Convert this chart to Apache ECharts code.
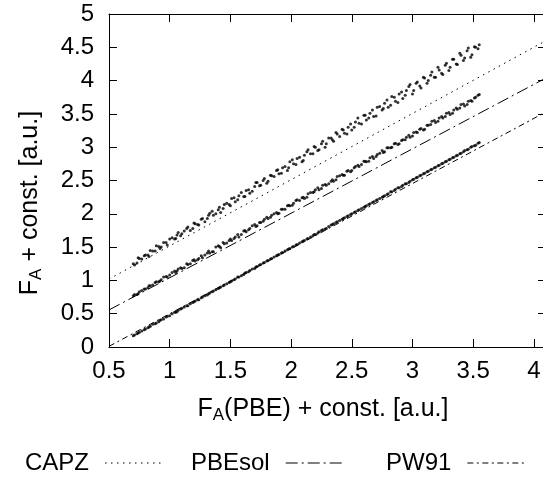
<!DOCTYPE html>
<html>
<head>
<meta charset="utf-8">
<script src="https://cdn.jsdelivr.net/npm/echarts@6/dist/echarts.min.js"></script>
<style>
html,body{margin:0;padding:0;background:#fff;overflow:hidden;width:543px;height:487px;}
#chart{width:560px;height:487px;}
</style>
</head>
<body>
<div id="chart"></div>
<script>
// F_A(PBE) + const. (shared x values of the systems)
const pbeX = [0.70,0.73,0.75,0.79,0.82,0.84,0.88,0.91,0.93,0.97,1.00,1.04,1.06,1.09,1.12,1.15,1.19,1.21,1.24,1.27,
1.31,1.33,1.36,1.40,1.42,1.45,1.49,1.51,1.54,1.57,1.61,1.63,1.66,1.70,1.72,1.75,1.78,1.81,1.84,1.88,
1.90,1.93,1.97,1.99,2.02,2.05,2.09,2.11,2.14,2.18,2.20,2.23,2.26,2.29,2.33,2.35,2.38,2.42,2.44,2.47,
2.50,2.53,2.56,2.60,2.62,2.65,2.68,2.71,2.75,2.77,2.80,2.83,2.86,2.89,2.92,2.95,2.98,3.01,3.04,3.07,
3.10,3.13,3.16,3.19,3.22,3.25,3.28,3.31,3.34,3.37,3.40,3.43,3.46,3.49,3.52,3.55,
0.71,0.74,0.77,0.80,0.83,0.86,0.89,0.92,0.95,0.98,1.02,1.05,1.07,1.10,1.14,1.17,1.20,1.23,1.26,1.29,
1.32,1.35,1.38,1.41,1.44,1.47,1.50,1.53,1.56,1.59,1.62,1.65,1.68,1.71,1.74,1.77,1.80,1.83,1.86,1.89,
1.92,1.95,1.98,2.01,2.04,2.07,2.10,2.13,2.16,2.19,2.22,2.25,2.28,2.31,2.34,2.37,2.40,2.43,2.46,2.49,
2.52,2.55,2.58,2.61,2.64,2.67,2.70,2.73,2.76,2.79,2.82,2.85,2.88,2.91,2.94,2.97,3.00,3.03,3.06,3.09,
3.12,3.15,3.18,3.21,3.24,3.27,3.30,3.33,3.36,3.39,3.42,3.45,3.48,3.51,3.54];
// F_A(CAPZ) + const.
const capzY = [1.25,1.26,1.33,1.37,1.38,1.45,1.44,1.51,1.50,1.57,1.62,1.62,1.68,1.67,1.74,1.80,1.78,1.85,1.83,1.93,
1.93,2.01,1.98,2.06,2.02,2.14,2.14,2.23,2.18,2.27,2.26,2.35,2.31,2.41,2.47,2.43,2.53,2.49,2.57,2.65,
2.60,2.69,2.65,2.78,2.75,2.83,2.78,2.88,2.96,2.90,3.00,2.96,3.09,3.05,3.14,3.09,3.20,3.27,3.21,3.30,
3.26,3.38,3.36,3.48,3.41,3.51,3.46,3.60,3.56,3.66,3.60,3.76,3.69,3.80,3.73,3.85,3.94,3.85,3.98,3.89,
4.04,4.00,4.13,4.05,4.16,4.09,4.26,4.20,4.32,4.24,4.38,4.34,4.49,4.39,4.50,4.54,
1.23,1.34,1.32,1.38,1.36,1.44,1.52,1.48,1.57,1.53,1.64,1.63,1.72,1.70,1.78,1.75,1.86,1.84,1.92,1.88,
1.98,2.04,2.00,2.10,2.08,2.16,2.12,2.24,2.21,2.32,2.26,2.36,2.34,2.47,2.42,2.50,2.46,2.58,2.56,2.66,
2.61,2.71,2.69,2.81,2.74,2.85,2.80,2.93,2.90,3.01,2.95,3.05,3.00,3.14,3.11,3.22,3.16,3.26,3.20,3.35,
3.30,3.44,3.35,3.48,3.44,3.56,3.47,3.61,3.58,3.71,3.63,3.75,3.67,3.83,3.78,3.91,3.80,3.96,3.92,4.05,
3.96,4.08,4.05,4.20,4.11,4.23,4.15,4.32,4.25,4.41,4.30,4.45,4.35,4.51,4.48];
// F_A(PBEsol) + const.
const pbesolY = [0.77,0.79,0.83,0.87,0.89,0.92,0.97,0.98,1.01,1.06,1.08,1.14,1.14,1.19,1.19,1.24,1.30,1.29,1.33,1.34,
1.41,1.41,1.43,1.52,1.49,1.55,1.60,1.60,1.65,1.65,1.74,1.73,1.78,1.84,1.82,1.87,1.92,1.93,1.98,2.02,
2.01,2.07,2.12,2.12,2.16,2.21,2.24,2.23,2.30,2.32,2.36,2.36,2.43,2.43,2.49,2.49,2.56,2.59,2.58,2.65,
2.65,2.71,2.71,2.79,2.78,2.84,2.83,2.89,2.95,2.93,2.99,3.00,3.06,3.05,3.11,3.15,3.15,3.22,3.22,3.28,
3.27,3.33,3.39,3.37,3.44,3.44,3.51,3.49,3.56,3.57,3.64,3.62,3.69,3.69,3.75,3.79,
0.79,0.80,0.85,0.87,0.92,0.93,0.98,0.99,1.05,1.05,1.12,1.12,1.17,1.18,1.25,1.25,1.31,1.31,1.37,1.38,
1.44,1.43,1.50,1.51,1.57,1.56,1.62,1.63,1.69,1.69,1.75,1.76,1.82,1.81,1.87,1.89,1.95,1.95,2.00,2.00,
2.07,2.07,2.13,2.13,2.20,2.20,2.25,2.25,2.32,2.33,2.39,2.38,2.44,2.45,2.51,2.51,2.57,2.58,2.64,2.63,
2.69,2.73,2.74,2.79,2.79,2.86,2.86,2.91,2.92,2.99,2.99,3.05,3.04,3.10,3.11,3.18,3.17,3.23,3.27,3.26,
3.33,3.34,3.40,3.39,3.46,3.46,3.52,3.51,3.59,3.59,3.65,3.64,3.70,3.74,3.78];
// F_A(PW91) + const.
const pw91Y = [0.17,0.20,0.22,0.26,0.29,0.31,0.35,0.38,0.41,0.45,0.47,0.52,0.53,0.57,0.60,0.62,0.67,0.69,0.71,0.75,
0.78,0.81,0.84,0.88,0.90,0.93,0.97,0.99,1.02,1.05,1.09,1.12,1.15,1.18,1.21,1.24,1.27,1.30,1.33,1.37,
1.39,1.42,1.46,1.48,1.51,1.54,1.58,1.60,1.63,1.67,1.69,1.73,1.76,1.78,1.83,1.85,1.88,1.92,1.94,1.97,
2.00,2.03,2.06,2.10,2.12,2.15,2.18,2.21,2.25,2.27,2.30,2.33,2.37,2.39,2.43,2.45,2.49,2.52,2.55,2.58,
2.61,2.64,2.67,2.70,2.73,2.76,2.79,2.82,2.85,2.88,2.91,2.95,2.97,3.01,3.03,3.07,
0.18,0.21,0.24,0.27,0.30,0.34,0.36,0.40,0.42,0.46,0.50,0.52,0.55,0.58,0.62,0.65,0.68,0.71,0.74,0.77,
0.80,0.83,0.86,0.89,0.92,0.95,0.98,1.01,1.05,1.07,1.11,1.13,1.17,1.20,1.23,1.26,1.29,1.32,1.35,1.38,
1.41,1.44,1.47,1.50,1.53,1.56,1.59,1.62,1.65,1.69,1.71,1.75,1.77,1.81,1.84,1.87,1.90,1.93,1.96,1.99,
2.02,2.05,2.08,2.11,2.14,2.17,2.20,2.23,2.26,2.29,2.33,2.35,2.39,2.41,2.45,2.47,2.51,2.54,2.57,2.60,
2.63,2.66,2.69,2.72,2.75,2.78,2.81,2.84,2.87,2.90,2.93,2.96,3.00,3.02,3.06];
// fitted lines (end points)
const capzFit = [[0.5, 1.02], [4.1, 4.60]];
const pbesolFit = [[0.5, 0.556], [4.1, 4.04]];
const pw91Fit = [[0.5, 0.01], [4.1, 3.53]];
// axis ranges / ticks / texts
const xMin = 0.5, xMax = 4.1, xStep = 0.5;
const yMin = 0, yMax = 5, yStep = 0.5;
const legendNames = ['CAPZ', 'PBEsol', 'PW91'];
const xTitle = '{n|F}{s|A}{n|(PBE) + const. [a.u.]}';
const yTitle = '{n|F}{s|A}{n| + const. [a.u.]}';

const FONT = "'Liberation Sans', Arial, Helvetica, sans-serif";
const pts = ys => pbeX.map((x, i) => [x, ys[i]]);
const black = '#000';

const chart = echarts.init(document.getElementById('chart'), null, {renderer: 'canvas'});
const tick = {show: true, inside: true, length: 8, lineStyle: {color: black, width: 1}};
const line = {show: true, onZero: false, lineStyle: {color: black, width: 1}};
const richName = {
  n: {fontSize: 25, fontFamily: FONT, fill: black, color: black, lineHeight: 30},
  s: {fontSize: 17, fontFamily: FONT, fill: black, color: black, lineHeight: 14, verticalAlign: 'bottom'}
};
const fmtX = v => (Math.abs(v * 2 - Math.round(v * 2)) < 1e-6 ? String(+v.toFixed(2)) : '');
const legendAt = (name, left) => ({
  left: left, top: 451, padding: 0, orient: 'horizontal', align: 'right',
  itemWidth: 60, itemHeight: 14, data: [name],
  textStyle: {fontSize: 24, fontFamily: FONT, color: black, padding: [0, 11, 0, 0]},
  itemStyle: {opacity: 0}, lineStyle: {width: 1}
});

chart.setOption({
  animation: false,
  backgroundColor: '#fff',
  textStyle: {fontFamily: FONT},
  grid: {left: 109, top: 14, bottom: 140, right: 14, outerBoundsMode: 'none', containLabel: false},
  legend: [legendAt(legendNames[0], 25), legendAt(legendNames[1], 191), legendAt(legendNames[2], 386)],
  xAxis: [{
    type: 'value', position: 'bottom', min: xMin, max: xMax, interval: xStep,
    axisLine: line, axisTick: tick, splitLine: {show: false},
    axisLabel: {fontSize: 24, fontFamily: FONT, color: black, margin: 12, formatter: fmtX}
  }, {
    type: 'value', position: 'top', min: xMin, max: xMax, interval: xStep,
    axisLine: line, axisTick: tick, splitLine: {show: false}, axisLabel: {show: false}
  }],
  yAxis: [{
    type: 'value', position: 'left', min: yMin, max: yMax, interval: yStep,
    axisLine: line, axisTick: tick, splitLine: {show: false},
    axisLabel: {fontSize: 24, fontFamily: FONT, color: black, margin: 15}
  }, {
    type: 'value', position: 'right', min: yMin, max: yMax, interval: yStep,
    axisLine: line, axisTick: tick, splitLine: {show: false}, axisLabel: {show: false}
  }],
  graphic: [
    {type: 'text', x: 323, y: 409, silent: true,
     style: {text: xTitle, rich: richName, align: 'center', verticalAlign: 'middle', fill: black}},
    {type: 'text', x: 30, y: 203, rotation: Math.PI / 2, silent: true,
     style: {text: yTitle, rich: richName, align: 'center', verticalAlign: 'middle', fill: black}}
  ],
  series: [
    {name: legendNames[0], type: 'line', data: capzFit, symbol: 'none', showSymbol: false, silent: true,
     lineStyle: {color: black, width: 1, type: [1.5, 4.5]}, itemStyle: {color: black}},
    {name: legendNames[1], type: 'line', data: pbesolFit, symbol: 'none', showSymbol: false, silent: true,
     lineStyle: {color: black, width: 1, type: [12, 4, 2, 4]}, itemStyle: {color: black}},
    {name: legendNames[2], type: 'line', data: pw91Fit, symbol: 'none', showSymbol: false, silent: true,
     lineStyle: {color: black, width: 1, type: [6, 3.5, 2, 3.5]}, itemStyle: {color: black}},
    {name: 'capzPts', type: 'scatter', data: pts(capzY), symbolSize: 3, silent: true, itemStyle: {color: black}},
    {name: 'pbesolPts', type: 'scatter', data: pts(pbesolY), symbolSize: 3, silent: true, itemStyle: {color: black}},
    {name: 'pw91Pts', type: 'scatter', data: pts(pw91Y), symbolSize: 3, silent: true, itemStyle: {color: black}}
  ]
});
</script>
</body>
</html>
